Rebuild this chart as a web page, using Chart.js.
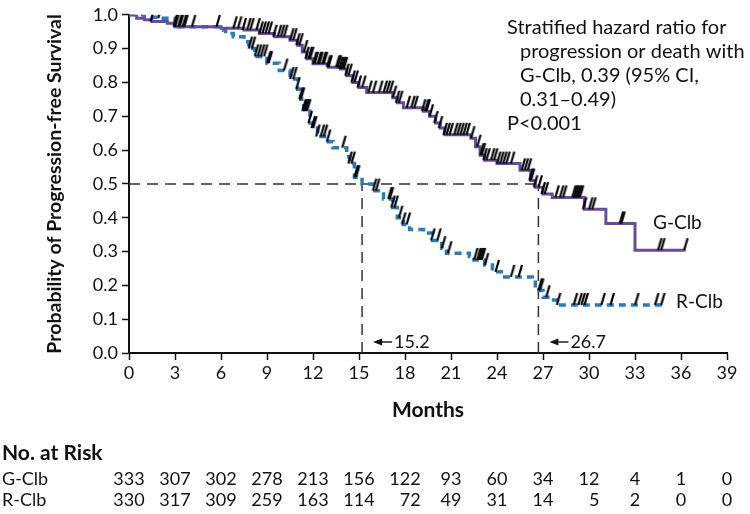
<!DOCTYPE html>
<html>
<head>
<meta charset="utf-8">
<script src="https://cdn.jsdelivr.net/npm/chart.js@4.4.1/dist/chart.umd.min.js"></script>
<style>
  html, body { margin: 0; padding: 0; background: #fff; }
  #wrap { width: 750px; height: 514px; position: relative; }
</style>
</head>
<body>
<div id="wrap"><canvas id="kmChart" width="750" height="514"></canvas></div>
<script>
// x axis ticks (months)
const tickMonths = [0, 3, 6, 9, 12, 15, 18, 21, 24, 27, 30, 33, 36, 39];
const yTicks = [0.0, 0.1, 0.2, 0.3, 0.4, 0.5, 0.6, 0.7, 0.8, 0.9, 1.0];

// G-Clb step curve (time of drop, survival after drop)
const gMonths = [0, 0.5, 1, 1.5, 2.5, 3, 6, 7.5, 8.5, 9.5, 10.5, 11, 11.3, 11.6, 12, 13, 13.8, 14.2, 14.6, 15, 15.5, 17.2, 17.5, 17.9, 19.2, 19.6, 20, 20.3, 20.6, 22.3, 22.6, 22.9, 23.2, 24, 25.5, 26.2, 26.5, 27, 27.6, 29.7, 31.1, 33, 36.3];
const gSurv   = [1.0, 0.99, 0.985, 0.98, 0.975, 0.965, 0.96, 0.955, 0.945, 0.935, 0.925, 0.91, 0.89, 0.87, 0.855, 0.845, 0.84, 0.82, 0.80, 0.785, 0.77, 0.755, 0.74, 0.725, 0.715, 0.70, 0.68, 0.665, 0.645, 0.635, 0.61, 0.585, 0.57, 0.56, 0.54, 0.51, 0.49, 0.47, 0.46, 0.425, 0.383, 0.304, 0.304];

// R-Clb step curve
const rMonths = [0, 1, 2, 3, 6, 6.3, 6.8, 7.5, 7.8, 8.2, 9, 9.8, 10.5, 11, 11.2, 11.4, 11.8, 12, 12.3, 13, 13.3, 14.2, 14.4, 14.7, 15.2, 15.9, 16.6, 17.2, 17.5, 17.9, 18.3, 19.2, 19.8, 20.4, 20.7, 22.2, 22.5, 23.2, 23.7, 24.5, 26.3, 26.5, 27, 27.5, 27.9, 34.8];
const rSurv   = [1.0, 0.993, 0.99, 0.965, 0.955, 0.945, 0.935, 0.92, 0.90, 0.877, 0.857, 0.835, 0.81, 0.78, 0.75, 0.715, 0.68, 0.665, 0.64, 0.625, 0.607, 0.58, 0.56, 0.52, 0.50, 0.48, 0.455, 0.43, 0.40, 0.38, 0.365, 0.355, 0.333, 0.31, 0.295, 0.285, 0.275, 0.26, 0.24, 0.225, 0.215, 0.185, 0.165, 0.157, 0.142, 0.142];

// censoring times
const gCensor = [0.3, 1.5, 3.1, 3.4, 3.7, 4.2, 5.8, 6.9, 7.2, 7.5, 7.8, 8.0, 8.4, 8.6, 8.8, 9.0, 9.2, 9.5, 9.8, 10.0, 10.2, 10.6, 10.8, 11.0, 11.2, 11.5, 11.6, 11.8, 11.9, 12.1, 12.2, 12.4, 12.5, 12.7, 12.8, 13.0, 13.1, 13.6, 13.7, 13.8, 13.9, 14.0, 14.1, 14.2, 14.4, 14.6, 14.8, 15.0, 15.3, 15.7, 16.0, 16.4, 16.7, 16.9, 17.1, 17.3, 17.5, 17.7, 18.2, 18.5, 18.7, 19.2, 19.4, 19.5, 19.7, 20.0, 20.3, 20.6, 20.8, 21.0, 21.3, 21.5, 21.7, 21.9, 22.1, 22.4, 22.8, 23.0, 23.1, 23.2, 23.4, 23.7, 23.9, 24.1, 24.3, 24.5, 24.7, 25.0, 25.7, 25.9, 26.1, 26.2, 26.3, 26.5, 26.8, 27.0, 27.2, 27.9, 28.2, 28.4, 29.0, 29.1, 29.2, 29.3, 29.4, 29.5, 29.7, 30.1, 30.3, 32.1, 32.2, 34.6, 34.8, 36.3];
const rCensor = [0.9, 2.0, 3.0, 3.3, 3.6, 7.9, 8.1, 8.3, 8.5, 8.7, 8.9, 9.1, 9.2, 10.2, 10.6, 10.8, 11.0, 11.2, 11.3, 11.4, 11.5, 11.6, 11.7, 11.8, 12.0, 12.1, 12.3, 12.6, 12.8, 13.0, 14.0, 14.4, 14.6, 14.8, 14.9, 16.0, 16.2, 17.0, 17.1, 17.2, 17.4, 17.7, 17.9, 18.2, 19.8, 20.2, 20.5, 20.9, 22.6, 22.8, 22.9, 23.0, 23.1, 23.3, 24.0, 25.0, 25.5, 26.8, 26.9, 27.3, 28.0, 29.1, 29.4, 29.6, 29.8, 30.9, 31.5, 33.1, 34.4, 34.8];

// medians
const medianR = 15.2;
const medianG = 26.7;

// number at risk
const riskG = [333, 307, 302, 278, 213, 156, 122, 93, 60, 34, 12, 4, 1, 0];
const riskR = [330, 317, 309, 259, 163, 114, 72, 49, 31, 14, 5, 2, 0, 0];

const PURPLE = '#6a4c9c';
const BLUE = '#2b7bba';
const FONT = 'Lato, "Open Sans", sans-serif';

// survival value at time t from a step curve
function survAt(times, surv, t) {
    let v = surv[0];
    for (let i = 0; i < times.length; i++) {
        if (times[i] <= t) v = surv[i];
    }
    return v;
}

function toPoints(xs, ys) {
    return xs.map((x, i) => ({ x: x, y: ys[i] }));
}

// slash marker for censored patients, bottom of the slash sits on the curve
function makeSlash() {
    const c = document.createElement('canvas');
    c.width = 14; c.height = 28;
    const ctx = c.getContext('2d');
    ctx.strokeStyle = '#000';
    ctx.lineWidth = 2.2;
    ctx.beginPath();
    ctx.moveTo(5.5, 14);
    ctx.lineTo(9, 2);
    ctx.stroke();
    return c;
}
const slash = makeSlash();

// texts, arrows and the risk table
const extrasPlugin = {
    id: 'extras',
    afterDraw(chart) {
        const ctx = chart.ctx;
        const xs = chart.scales.x;
        ctx.save();
        ctx.fillStyle = '#111';
        ctx.textBaseline = 'middle';

        // hazard ratio note
        ctx.font = '20px ' + FONT;
        ctx.textAlign = 'left';
        ctx.fillText('Stratified hazard ratio for', 507, 28);
        ctx.fillText('progression or death with', 520, 52);
        ctx.fillText('G-Clb, 0.39 (95% CI,', 520, 76);
        ctx.fillText('0.31\u20130.49)', 520, 100);
        ctx.fillText('P<0.001', 507, 124);

        // curve labels
        ctx.font = '19px ' + FONT;
        ctx.fillText('G-Clb', 653, 223);
        ctx.fillText('R-Clb', 676, 302);

        // median arrows
        const yArrow = 342;
        ctx.font = '18px ' + FONT;
        [medianR, medianG].forEach(m => {
            const px = xs.getPixelForValue(m);
            ctx.strokeStyle = '#111';
            ctx.lineWidth = 1.4;
            ctx.beginPath();
            ctx.moveTo(px + 16, yArrow);
            ctx.lineTo(px + 30, yArrow);
            ctx.stroke();
            ctx.beginPath();
            ctx.moveTo(px + 11, yArrow);
            ctx.lineTo(px + 20, yArrow - 3.5);
            ctx.lineTo(px + 20, yArrow + 3.5);
            ctx.closePath();
            ctx.fill();
            ctx.fillText(m.toFixed(1), px + 32, yArrow);
        });

        // number at risk table
        ctx.font = 'bold 21px ' + FONT;
        ctx.fillText('No. at Risk', 2, 453);
        ctx.font = '18px ' + FONT;
        ctx.fillText('G-Clb', 2, 479);
        ctx.fillText('R-Clb', 2, 500);
        ctx.textAlign = 'right';
        tickMonths.forEach((m, i) => {
            const a = String(riskG[i]);
            const b = String(riskR[i]);
            const w = Math.max(ctx.measureText(a).width, ctx.measureText(b).width);
            const px = xs.getPixelForValue(m) + w / 2;
            ctx.fillText(a, px, 479);
            ctx.fillText(b, px, 500);
        });
        ctx.restore();
    }
};

const ctx = document.getElementById('kmChart').getContext('2d');
new Chart(ctx, {
    type: 'line',
    data: {
        datasets: [
            {
                // median reference lines
                data: [{ x: 0, y: 0.5 }, { x: medianG, y: 0.5 }],
                borderColor: '#333', borderWidth: 1.5, borderDash: [11, 7],
                pointRadius: 0, fill: false, order: 5
            },
            {
                data: [{ x: medianR, y: 0 }, { x: medianR, y: 0.5 }],
                borderColor: '#333', borderWidth: 1.5, borderDash: [11, 7],
                pointRadius: 0, fill: false, order: 5
            },
            {
                data: [{ x: medianG, y: 0 }, { x: medianG, y: 0.5 }],
                borderColor: '#333', borderWidth: 1.5, borderDash: [11, 7],
                pointRadius: 0, fill: false, order: 5
            },
            {
                label: 'R-Clb',
                data: toPoints(rMonths, rSurv),
                stepped: 'before',
                borderColor: BLUE, borderWidth: 3.5, borderDash: [7, 5],
                pointRadius: 0, fill: false, order: 3
            },
            {
                label: 'G-Clb',
                data: toPoints(gMonths, gSurv),
                stepped: 'before',
                borderColor: PURPLE, borderWidth: 3,
                pointRadius: 0, fill: false, order: 2
            },
            {
                type: 'scatter',
                data: rCensor.map(t => ({ x: t, y: survAt(rMonths, rSurv, t) })),
                pointStyle: slash, pointRadius: 7, showLine: false, order: 1
            },
            {
                type: 'scatter',
                data: gCensor.map(t => ({ x: t, y: survAt(gMonths, gSurv, t) })),
                pointStyle: slash, pointRadius: 7, showLine: false, order: 1
            }
        ]
    },
    options: {
        responsive: false,
        animation: false,
        events: [],
        layout: { padding: { left: 2, right: 23, top: 13, bottom: 91 } },
        plugins: {
            legend: { display: false },
            tooltip: { enabled: false }
        },
        scales: {
            x: {
                type: 'linear',
                min: 0, max: 39,
                afterBuildTicks: axis => { axis.ticks = tickMonths.map(v => ({ value: v })); },
                afterFit: axis => { axis.height = 70; },
                ticks: { color: '#111', font: { family: FONT, size: 18 }, padding: 2, maxRotation: 0 },
                grid: { drawOnChartArea: false, drawTicks: true, tickLength: 7, tickColor: '#111', tickWidth: 1.5 },
                border: { color: '#111', width: 2 },
                title: { display: true, text: 'Months', color: '#111', font: { family: FONT, size: 21, weight: 'bold' }, padding: { top: 0, bottom: 0 } }
            },
            y: {
                min: 0, max: 1,
                afterBuildTicks: axis => { axis.ticks = yTicks.map(v => ({ value: v })); },
                afterFit: axis => { axis.width = 127; },
                ticks: { color: '#111', font: { family: FONT, size: 18 }, padding: 4, callback: v => Number(v).toFixed(1) },
                grid: { drawOnChartArea: false, drawTicks: true, tickLength: 7, tickColor: '#111', tickWidth: 1.5 },
                border: { color: '#111', width: 2 },
                title: { display: true, text: 'Probability of Progression-free Survival', color: '#111', font: { family: FONT, size: 19.5, weight: 'bold' }, padding: { top: 41, bottom: 0 } }
            }
        }
    },
    plugins: [extrasPlugin]
});
</script>
</body>
</html>
